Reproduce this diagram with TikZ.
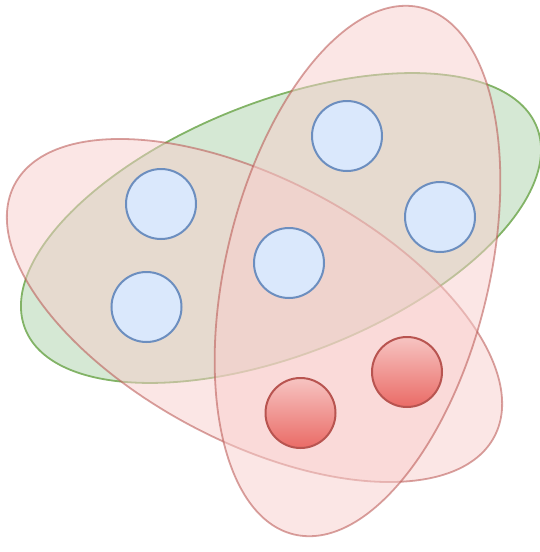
\documentclass[tikz,border=0pt]{standalone}
\usepackage{xcolor}
\usepackage{tikz}
\usetikzlibrary{shapes.geometric}

\definecolor{greenfill}{HTML}{D5E8D4}
\definecolor{greenline}{HTML}{82B366}
\definecolor{redfill}{HTML}{F8CECC}
\definecolor{redline}{HTML}{B85450}
\definecolor{reddeep}{HTML}{EA6B66}
\definecolor{bluefill}{HTML}{DAE8FC}
\definecolor{blueline}{HTML}{6C8EBF}

\tikzset{
    setgreen/.style={ellipse, draw=greenline, fill=greenfill, line width=1.8pt,
        minimum width=550pt, minimum height=253pt, inner sep=0pt},
    setred/.style={ellipse, draw=redline, fill=redfill, line width=1.8pt,
        fill opacity=0.5, draw opacity=0.55,
        minimum width=542pt, minimum height=263pt, inner sep=0pt},
    elem/.style={circle, draw=blueline, fill=bluefill, line width=2pt,
        minimum size=70pt, inner sep=0pt},
    elemred/.style={circle, draw=redline, line width=2pt,
        top color=redfill!90!reddeep, bottom color=reddeep,
        minimum size=70pt, inner sep=0pt}
}

\begin{document}
\begin{tikzpicture}[x=1pt, y=-1pt]
            \useasboundingbox (0,0) rectangle (540,552);

            % the three sets
            \node[setgreen, rotate=21.5] (g) at (281,228) {};
            \node[setred, rotate=-27.7] (r2) at (254.5,310.5) {};
            \node[setred, rotate=76.4] (r1) at (357.5,271) {};

            % the elements
            \node[elem] (b1) at (347,136) {};
            \node[elem] (b2) at (161,204) {};
            \node[elem] (b3) at (440,217) {};
            \node[elem] (b4) at (289,263) {};
            \node[elem] (b5) at (146.5,307) {};
            \node[elemred] (c1) at (407,372) {};
            \node[elemred] (c2) at (300.5,413) {};
        \end{tikzpicture}
\end{document}
